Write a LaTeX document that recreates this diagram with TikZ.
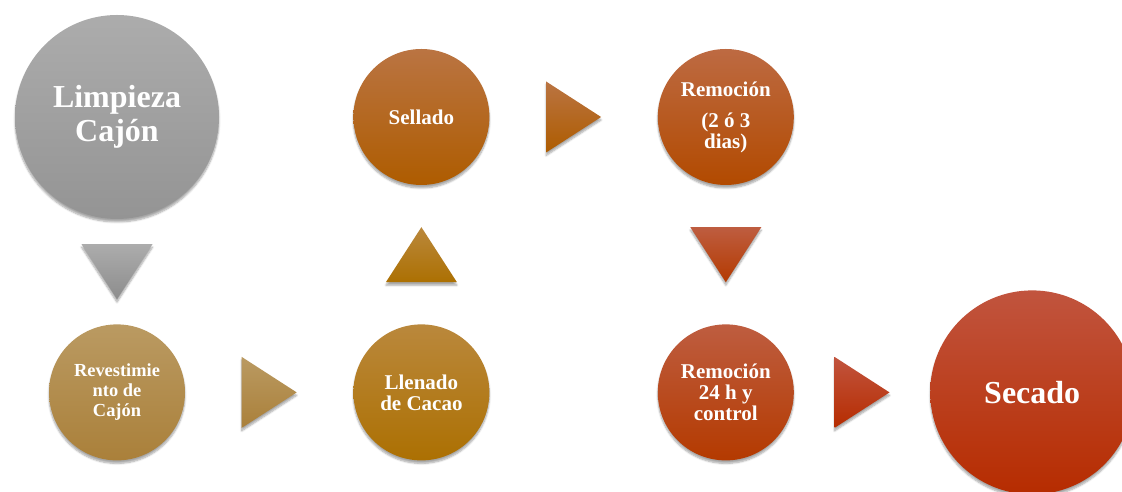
\documentclass[tikz,border=0pt]{standalone}
\usepackage{fontspec}
\setmainfont{Liberation Serif}
\usetikzlibrary{positioning,calc,shadows.blur}

\definecolor{grayTop}{RGB}{172,172,172}
\definecolor{grayBot}{RGB}{148,148,148}
\definecolor{goldTop}{RGB}{186,154,98}
\definecolor{goldBot}{RGB}{170,128,58}
\definecolor{ochreTop}{RGB}{186,136,60}
\definecolor{ochreBot}{RGB}{172,112,2}
\definecolor{amberTop}{RGB}{186,116,66}
\definecolor{amberBot}{RGB}{174,92,0}
\definecolor{rustTop}{RGB}{189,106,66}
\definecolor{rustBot}{RGB}{178,74,0}
\definecolor{brickTop}{RGB}{190,93,64}
\definecolor{brickBot}{RGB}{180,58,0}
\definecolor{redTop}{RGB}{193,84,62}
\definecolor{redBot}{RGB}{182,44,0}

\begin{document}
\begin{tikzpicture}[x=1pt, y=1pt,
  softshadow/.style={blur shadow={shadow xshift=0pt, shadow yshift=-3pt, shadow blur steps=6, shadow opacity=35}},
  stage/.style={circle, minimum size=136pt, inner sep=0pt, align=center, text=white,
    font=\bfseries\fontsize{21}{21}\selectfont, softshadow},
  bigstage/.style={stage, minimum size=204pt, font=\bfseries\fontsize{32}{34}\selectfont},
  pointer/.style={softshadow}]
  \useasboundingbox (0,0) rectangle (1122,492);

  % pasos del proceso
  \node[bigstage, top color=grayTop, bottom color=grayBot] (limp) at (117,375) {Limpieza\\Cajón};
  \node[stage, below=105pt of limp, top color=goldTop, bottom color=goldBot,
    font=\bfseries\fontsize{18.4}{20}\selectfont] (rev) {Revestimie\\nto de\\Cajón};
  \node[stage, right=168pt of rev, top color=ochreTop, bottom color=ochreBot] (llen) {Llenado\\de Cacao};
  \node[stage, above=139pt of llen, top color=amberTop, bottom color=amberBot] (sell) {Sellado};
  \node[stage, right=168pt of sell, top color=rustTop, bottom color=rustBot,
    font=\bfseries\fontsize{21}{21}\selectfont] (rem1) {Remoción\\[10pt](2 ó 3\\dias)};
  \node[stage, below=139pt of rem1, top color=brickTop, bottom color=brickBot] (rem2) {Remoción\\24 h y\\control};
  \node[bigstage, right=136pt of rem2, top color=redTop, bottom color=redBot] (sec) {Secado};

  % flechas triangulares entre pasos
  \coordinate (g1) at ($(limp.south)!.5!(rev.north)$);
  \coordinate (g2) at ($(rev.east)!.5!(llen.west)$);
  \coordinate (g3) at ($(llen.north)!.5!(sell.south)$);
  \coordinate (g4) at ($(sell.east)!.5!(rem1.west)$);
  \coordinate (g5) at ($(rem1.south)!.5!(rem2.north)$);
  \coordinate (g6) at ($(rem2.east)!.5!(sec.west)$);

  \shade[pointer, top color=grayTop, bottom color=grayBot!95!black]
    ($(g1)+(-35.5,27.5)$) -- ++(71,0) -- ++(-35.5,-55) -- cycle;
  \shade[pointer, top color=goldTop, bottom color=goldBot]
    ($(g2)+(-27.5,35.5)$) -- ++(55,-35.5) -- ++(-55,-35.5) -- cycle;
  \shade[pointer, top color=ochreTop, bottom color=ochreBot]
    ($(g3)+(-35.5,-27.5)$) -- ++(71,0) -- ++(-35.5,55) -- cycle;
  \shade[pointer, top color=amberTop, bottom color=amberBot]
    ($(g4)+(-27.5,35.5)$) -- ++(55,-35.5) -- ++(-55,-35.5) -- cycle;
  \shade[pointer, top color=brickTop, bottom color=brickBot]
    ($(g5)+(-35.5,27.5)$) -- ++(71,0) -- ++(-35.5,-55) -- cycle;
  \shade[pointer, top color=redTop, bottom color=redBot]
    ($(g6)+(-27.5,35.5)$) -- ++(55,-35.5) -- ++(-55,-35.5) -- cycle;
\end{tikzpicture}
\end{document}
